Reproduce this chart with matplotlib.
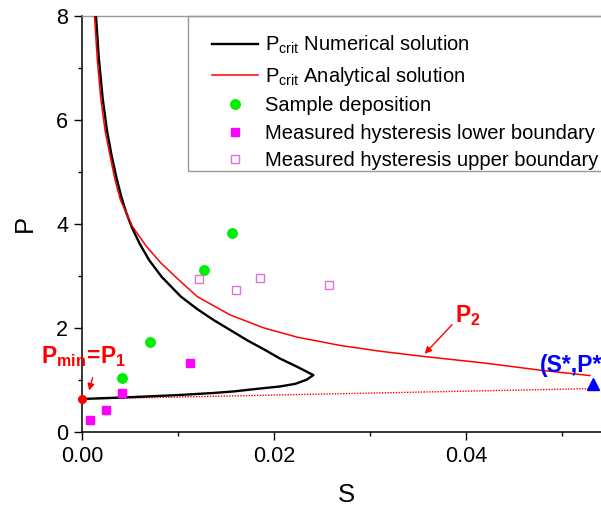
import matplotlib
matplotlib.use("Agg")
import matplotlib.pyplot as plt
from matplotlib.ticker import MultipleLocator, FormatStrFormatter
from matplotlib.patches import Rectangle

plt.rcParams['font.family'] = ['Liberation Sans', 'DejaVu Sans']
plt.rcParams['mathtext.fontset'] = 'custom'
plt.rcParams['mathtext.rm'] = 'Liberation Sans'
plt.rcParams['mathtext.it'] = 'Liberation Sans:italic'
plt.rcParams['mathtext.bf'] = 'Liberation Sans:bold'

# ---------------- data ----------------
num_S = [0.00146, 0.00175, 0.00215, 0.0026, 0.0031, 0.0036, 0.0041, 0.0046, 0.0052, 0.0060,
         0.0070, 0.0083, 0.0103, 0.0120, 0.0137, 0.0155, 0.0172, 0.0190, 0.0206,
         0.0224, 0.0241, 0.0234, 0.0222, 0.0206, 0.0185, 0.0158, 0.0137, 0.0100,
         0.0060, 0.0030, 0.0]
num_P = [8.0, 7.2, 6.42, 5.8, 5.3, 4.88, 4.52, 4.22, 3.93, 3.62,
         3.30, 2.98, 2.60, 2.36, 2.15, 1.95, 1.76, 1.58, 1.41,
         1.25, 1.09, 1.00, 0.92, 0.87, 0.83, 0.775, 0.745, 0.705,
         0.672, 0.65, 0.63]

ana_S = [0.0013, 0.0016, 0.00195, 0.0024, 0.00285, 0.0034, 0.0040, 0.00525, 0.0067,
         0.0082, 0.0098, 0.0120, 0.0154, 0.0189, 0.0224, 0.0269, 0.0310, 0.0355,
         0.0420, 0.0477, 0.0529]
ana_P = [8.0, 7.15, 6.42, 5.8, 5.38, 4.88, 4.46, 3.95, 3.57,
         3.25, 2.97, 2.60, 2.25, 2.00, 1.82, 1.66, 1.55, 1.45,
         1.32, 1.185, 1.08]

line_S = [0.0, 0.0532]
line_P = [0.63, 0.83]

dep_S = [0.0042, 0.0071, 0.0127, 0.0156]
dep_P = [1.04, 1.73, 3.12, 3.82]

low_S = [0.00083, 0.0025, 0.0042, 0.0113]
low_P = [0.225, 0.42, 0.75, 1.32]

up_S = [0.0122, 0.0160, 0.0185, 0.0257]
up_P = [2.94, 2.72, 2.96, 2.83]

pmin_S, pmin_P = 0.0, 0.63
star_S, star_P = 0.0532, 0.91

labels = [r'P$_{\mathrm{crit}}$ Numerical solution',
          r'P$_{\mathrm{crit}}$ Analytical solution',
          'Sample deposition',
          'Measured hysteresis lower boundary',
          'Measured hysteresis upper boundary']

# ---------------- figure ----------------
W, H = 601, 508
fig = plt.figure(figsize=(W/100, H/100), dpi=100)
ax_l, ax_b, ax_w, ax_h = 82, 431.7, 528, 415.7   # pixels
ax = fig.add_axes([ax_l/W, (H-ax_b)/H, ax_w/W, ax_h/H])

def px2ax(x, y):
    return (x - ax_l) / ax_w, (ax_b - y) / ax_h

ax.plot(num_S, num_P, color='black', lw=1.7, label=labels[0], zorder=3)
ax.plot(ana_S, ana_P, color='#ff0000', lw=1.1, label=labels[1], zorder=3)
ax.plot(dep_S, dep_P, 'o', color='#00ee00', ms=6.8, mec='#00ee00', label=labels[2], zorder=4)
ax.plot(low_S, low_P, 's', color='#ff00ff', ms=6, mec='#ff00ff', label=labels[3], zorder=4)
ax.plot(up_S, up_P, 's', mfc='none', mec='#e070e0', ms=5.5, mew=1.0, label=labels[4], zorder=4)

ax.plot(line_S, line_P, color='#ff0000', lw=1.0, ls=(0, (1, 1)), zorder=2)
ax.plot([pmin_S], [pmin_P], 'o', color='#ff0000', ms=5.5, clip_on=False, zorder=5)
ax.plot([star_S], [star_P], '^', color='#0000ff', ms=8.5, clip_on=False, zorder=5)

ax.set_xlim(0, 0.055)
ax.set_ylim(0, 8)
ax.xaxis.set_major_locator(MultipleLocator(0.02))
ax.xaxis.set_minor_locator(MultipleLocator(0.01))
ax.yaxis.set_major_locator(MultipleLocator(2))
ax.yaxis.set_minor_locator(MultipleLocator(1))
ax.xaxis.set_major_formatter(FormatStrFormatter('%.2f'))
ax.tick_params(which='major', direction='out', length=6, width=1, labelsize=15.5, pad=4)
ax.tick_params(which='minor', direction='out', length=3, width=1)
ax.tick_params(top=False, right=False, which='both')

ax.spines['right'].set_visible(False)
ax.spines['top'].set_color('#999999')
ax.spines['top'].set_linewidth(1.0)
for s in ('left', 'bottom'):
    ax.spines[s].set_linewidth(1.1)

ax.set_xlabel('S', fontsize=18.5, labelpad=12)
ax.set_ylabel('P', fontsize=18.5, labelpad=14)

# legend frame (extends past the right edge, as in the reference)
fx0, fy0 = px2ax(188, 171)
frame = Rectangle((fx0, fy0), 1.0, 1.0 - fy0, transform=ax.transAxes, fill=False,
                  edgecolor='#999999', lw=1.0, clip_on=False, zorder=6)
ax.add_patch(frame)

lx, ly = px2ax(212, 34)
leg = ax.legend(loc='upper left', bbox_to_anchor=(lx, ly), borderaxespad=0,
                fontsize=14.5, frameon=False, handlelength=2.3, handletextpad=0.35,
                labelspacing=0.42, borderpad=0.0, numpoints=1)

# annotations
ax.text(-0.0043, 1.315, r'$\mathbf{P_{min}\!=\!P_1}$', color='#ff0000', fontsize=16.5,
        ha='left', va='baseline', clip_on=False, zorder=6)
ax.annotate('', xy=(0.00066, 0.74), xytext=(0.00118, 1.09),
            arrowprops=dict(arrowstyle='-|>', color='#ff0000', lw=1.0, mutation_scale=10))
ax.text(0.03885, 2.115, r'$\mathbf{P_2}$', color='#ff0000', fontsize=16.5,
        ha='left', va='baseline', zorder=6)
ax.annotate('', xy=(0.0355, 1.46), xytext=(0.03875, 2.10),
            arrowprops=dict(arrowstyle='-|>', color='#ff0000', lw=1.0, mutation_scale=10))
ax.text(0.0477, 1.15, '(S*,P*)', color='#0000ff', fontsize=16.5, fontweight='bold',
        ha='left', va='baseline', clip_on=False, zorder=6)

fig.savefig('out.png', dpi=100)
